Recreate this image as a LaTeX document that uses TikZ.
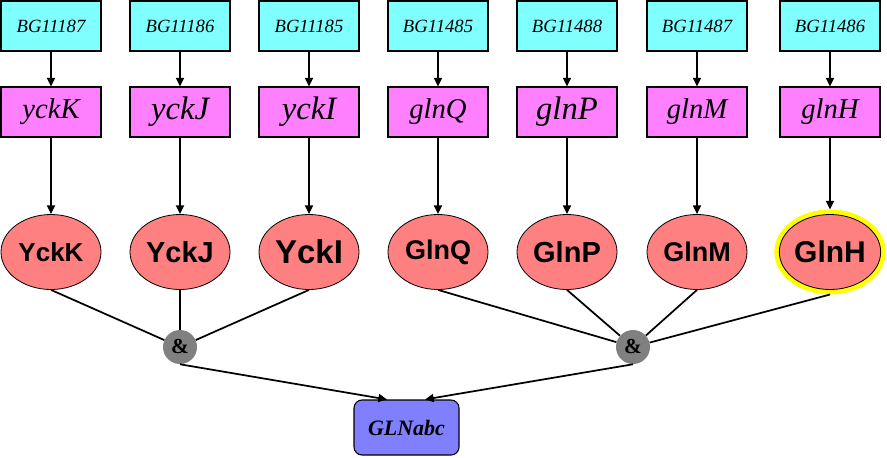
\documentclass[tikz,border=0pt]{standalone}
\usepackage{fontspec}
\setmainfont{Liberation Serif}
\newfontfamily\arialf{Liberation Sans}
\usetikzlibrary{arrows.meta,shapes.geometric}
\definecolor{cyanbox}{HTML}{80FFFF}
\definecolor{magbox}{HTML}{FF80FF}
\definecolor{salmon}{HTML}{FF8080}
\definecolor{andgray}{HTML}{808080}
\definecolor{bluebox}{HTML}{8080FF}
\definecolor{halo}{HTML}{FFFF00}
\tikzset{
  bgbox/.style={draw=black, fill=cyanbox, line width=0.8pt, minimum width=75pt, minimum height=37.5pt, inner sep=0pt, font=\fontsize{14}{16}\selectfont\itshape},
  genebox/.style={draw=black, fill=magbox, line width=0.8pt, minimum width=75pt, minimum height=37.5pt, inner sep=0pt, font=\fontsize{21.5}{24}\selectfont\itshape},
  bigtxt/.style={font=\fontsize{24.5}{27}\selectfont\itshape},
  prot/.style={ellipse, draw=black, fill=salmon, line width=0.6pt, minimum width=75pt, minimum height=56.25pt, inner sep=0pt},
  andnode/.style={circle, fill=andgray, minimum size=25.5pt, inner sep=0pt, font=\fontsize{16}{18}\selectfont\bfseries},
  opbox/.style={draw=black, fill=bluebox, rounded corners=6pt, line width=0.8pt, minimum width=78.75pt, minimum height=41.25pt, inner sep=0pt, font=\fontsize{16.5}{18}\selectfont\bfseries\itshape},
  arr/.style={-{Triangle[length=6.5pt,width=6pt]}, line width=1.3pt},
  conn/.style={line width=1.3pt},
}
\begin{document}
\begin{tikzpicture}[x=0.75pt,y=-0.75pt]
\useasboundingbox (0,0) rectangle (887,457);
% top boxes
\node[bgbox] (b1) at (51,26) {BG11187};
\node[bgbox] (b2) at (180,26) {BG11186};
\node[bgbox] (b3) at (309,26) {BG11185};
\node[bgbox] (b4) at (438,26) {BG11485};
\node[bgbox] (b5) at (567,26) {BG11488};
\node[bgbox] (b6) at (697,26) {BG11487};
\node[bgbox] (b7) at (830,26) {BG11486};
% gene boxes
\node[genebox] (g1) at (51,112) {yckK};
\node[genebox,bigtxt] (g2) at (180,112) {yckJ};
\node[genebox,bigtxt] (g3) at (309,112) {yckI};
\node[genebox] (g4) at (438,112) {glnQ};
\node[genebox,bigtxt] (g5) at (567,112) {glnP};
\node[genebox] (g6) at (697,112) {glnM};
\node[genebox] (g7) at (830,112) {glnH};
% proteins
\node[prot, font=\arialf\bfseries\fontsize{19.5}{22}\selectfont] (p1) at (51,252) {YckK};
\node[prot, font=\arialf\bfseries\fontsize{21.75}{24}\selectfont] (p2) at (180,252) {YckJ};
\node[prot, font=\arialf\bfseries\fontsize{24.75}{27}\selectfont] (p3) at (309,252) {YckI};
\node[prot, font=\arialf\bfseries\fontsize{20.25}{23}\selectfont] (p4) at (438,252) {GlnQ};
\node[prot, font=\arialf\bfseries\fontsize{21.75}{24}\selectfont] (p5) at (567,252) {GlnP};
\node[prot, font=\arialf\bfseries\fontsize{20.25}{23}\selectfont] (p6) at (697,252) {GlnM};
\node[prot, font=\arialf\bfseries\fontsize{22.5}{25}\selectfont, preaction={draw=halo, line width=7.5pt}, outer sep=3.75pt] (p7) at (830,252) {GlnH};
% and nodes
\node[andnode] (a1) at (180,347) {\&};
\node[andnode] (a2) at (633,347) {\&};
% operon
\node[opbox] (op) at (406.5,427.5) {GLNabc};
% arrows
\foreach \i in {1,...,7} {
  \draw[arr] (b\i) -- (g\i);
  \draw[arr] (g\i) -- (p\i);
}
\foreach \i in {1,2,3} { \draw[conn] (p\i.south) -- (a1); }
\foreach \i in {4,5,6,7} { \draw[conn] (p\i.south) -- (a2); }
\draw[arr] (a1.south) -- ([xshift=-14.6pt]op.north);
\draw[arr] (a2.south) -- ([xshift=13.9pt]op.north);
\end{tikzpicture}
\end{document}
